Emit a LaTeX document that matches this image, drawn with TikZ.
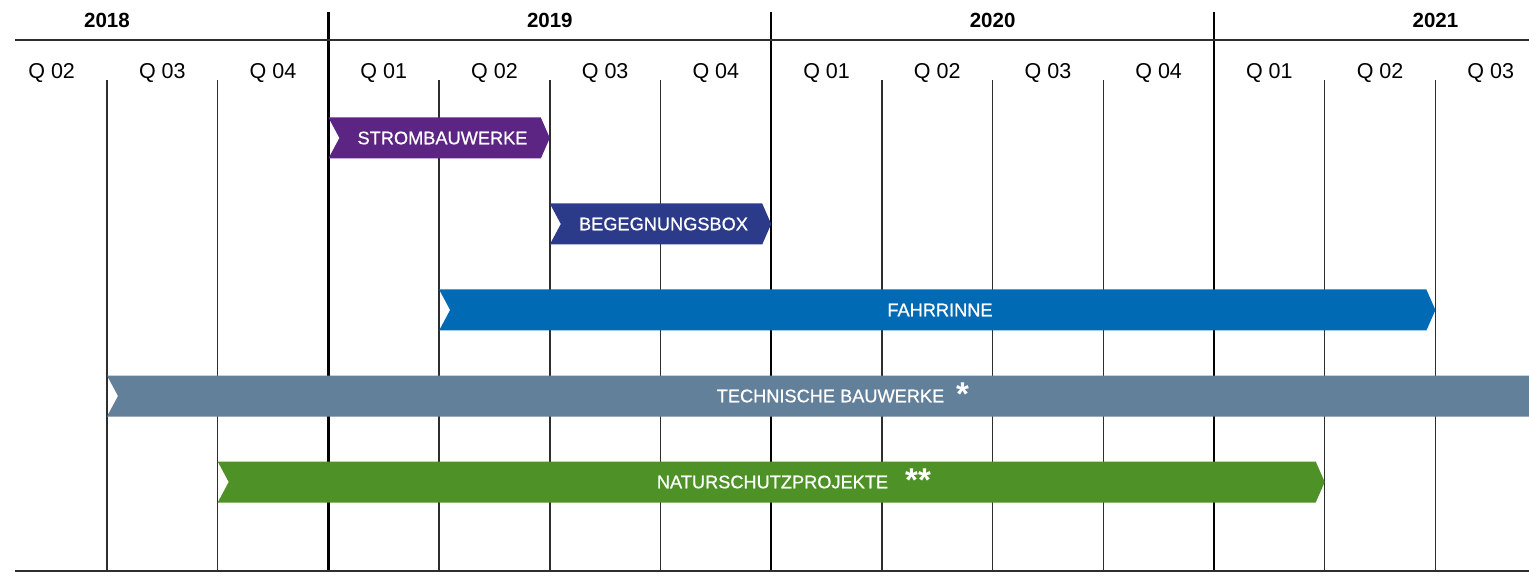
\documentclass[tikz,border=0pt]{standalone}
\usepackage{fontspec}
\setmainfont{Liberation Sans}
\newfontfamily\barfont[FakeBold=0.8]{Liberation Sans}
\definecolor{cpurple}{HTML}{5C2483}
\definecolor{cnavy}{HTML}{2C3A8A}
\definecolor{cblue}{HTML}{006AB4}
\definecolor{cslate}{HTML}{62809A}
\definecolor{cgreen}{HTML}{4E9126}
\newcommand\gbar[4]{\fill[#4] ({#1},{#3-20.5}) -- ({#2-9},{#3-20.5}) -- ({#2},{#3}) -- ({#2-9},{#3+20.5}) -- ({#1},{#3+20.5}) -- ({#1+11},{#3}) -- cycle;}
\begin{document}
\begin{tikzpicture}[x=1pt,y=-1pt,
  qlab/.style={font=\fontsize{21.5}{24}\selectfont, anchor=base, inner sep=0pt},
  ylab/.style={font=\bfseries\fontsize{20.5}{24}\selectfont, anchor=base, inner sep=0pt},
  barlab/.style={font=\barfont\fontsize{18.2}{20}\selectfont, text=white, inner sep=0pt},
  starlab/.style={font=\bfseries\fontsize{33}{36}\selectfont, text=white, inner sep=0pt, anchor=base},
  thinline/.style={line width=1.4pt, draw=black!82},
  yearline/.style={line width=2.4pt, draw=black},
  hline/.style={line width=2pt, draw=black!82}]
\useasboundingbox (0,0) rectangle (1529,577);
\fill[white] (0,0) rectangle (1529,577);
% grid
\foreach \k in {0,1,3,4,5,7,8,9,11,12} { \draw[thinline] ({107+110.7*\k},80) -- ({107+110.7*\k},571); }
\foreach \k in {2,6,10} { \draw[yearline] ({107+110.7*\k},12) -- ({107+110.7*\k},571); }
\draw[hline] (15,40) -- (1529,40);
\draw[hline] (15,571) -- (1529,571);
% years
\node[ylab] (y2018) at (107,28) {2018};
\node[ylab] (y2019) at (549.8,28) {2019};
\node[ylab] (y2020) at (992.6,28) {2020};
\node[ylab] (y2021) at (1435.4,28) {2021};
% quarters
\foreach \k/\t in {0/Q 02,1/Q 03,2/Q 04,3/Q 01,4/Q 02,5/Q 03,6/Q 04,7/Q 01,8/Q 02,9/Q 03,10/Q 04,11/Q 01,12/Q 02,13/Q 03}
  { \node[qlab] (q\k) at ({107+110.7*(\k-0.5)},78.5) {\t}; }
% bars
\gbar{328.4}{549.8}{138}{cpurple}
\gbar{549.8}{771.2}{224}{cnavy}
\gbar{439.1}{1435.4}{310}{cblue}
\fill[cslate] (107,375.5) -- (1529,375.5) -- (1529,416.5) -- (107,416.5) -- (118,396) -- cycle;
\gbar{217.7}{1324.7}{482}{cgreen}
% bar labels
\node[barlab] (strom) at (442.5,138) {STROMBAUWERKE};
\node[barlab] (beg) at (663.5,224) {BEGEGNUNGSBOX};
\node[barlab] (fahr) at (940,310) {FAHRRINNE};
\node[barlab] (tech) at (830.5,396) {TECHNISCHE BAUWERKE};
\node[barlab] (natur) at (772.5,482) {NATURSCHUTZPROJEKTE};
\node[starlab] (star1) at (962.5,405) {*};
\node[starlab] (star2) at (918,491) {**};
\end{tikzpicture}
\end{document}
